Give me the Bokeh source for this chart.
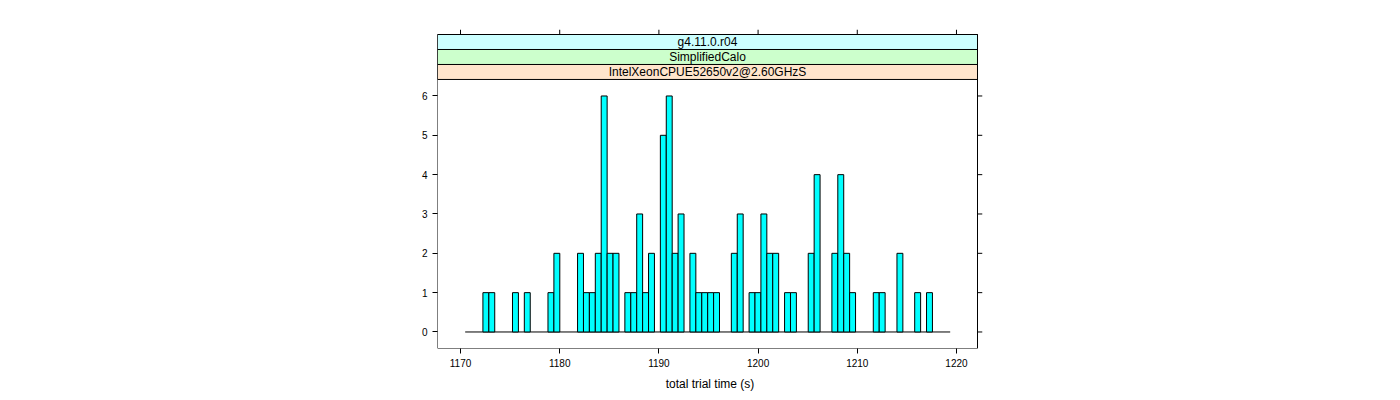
import numpy as np
from bokeh.plotting import figure
from bokeh.models import Range1d, LinearAxis, FixedTicker, Label
from bokeh.core.properties import value
from bokeh.embed import file_html
from bokeh.resources import INLINE

# ---- data ----
counts = [0, 0, 0, 1, 1, 0, 0, 0, 1, 0,
          1, 0, 0, 0, 1, 2, 0, 0, 0, 2,
          1, 1, 2, 6, 2, 2, 0, 1, 1, 3,
          1, 2, 0, 5, 6, 2, 3, 0, 2, 1,
          1, 1, 1, 0, 0, 2, 3, 0, 1, 1,
          3, 2, 2, 0, 1, 1, 0, 0, 2, 4,
          0, 0, 2, 4, 2, 1, 0, 0, 0, 1,
          1, 0, 0, 2, 0, 0, 1, 0, 1, 0,
          0, 0]
break_start = 1170.47
bin_width = 0.5963
x_ticks = [1170, 1180, 1190, 1200, 1210, 1220]
y_ticks = [0, 1, 2, 3, 4, 5, 6]
strip_labels = ["IntelXeonCPUE52650v2@2.60GHzS", "SimplifiedCalo", "g4.11.0.r04"]
strip_colors = ["#FFE5CC", "#CCFFCC", "#CCFFFF"]
x_label = "total trial time (s)"
y_label = "Count"

# ---- derived ----
edges = break_start + bin_width * np.arange(len(counts) + 1)
cnt = np.array(counts)
nz = cnt > 0

FONT = "Liberation Sans"
x_lo, x_hi = 1167.68, 1222.12
y_lo, y_panel_top = -0.42, 6.42
strip_h = 0.381
y_top = y_panel_top + 3 * strip_h

BOX_W, BOX_H = 540, 314          # visible panel box (incl. strips)
LEFT, TOP = 437, 34
TICK = 5
px_per_x = BOX_W / (x_hi - x_lo)
px_per_y = BOX_H / (y_top - y_lo)

# the frame extends TICK px beyond the box on top and right so that
# the outward tick marks there can be drawn as glyphs
FRAME_W, FRAME_H = BOX_W + TICK, BOX_H + TICK
x_end = x_hi + TICK / px_per_x
y_end = y_top + TICK / px_per_y

p = figure(frame_width=FRAME_W, frame_height=FRAME_H,
           min_border_left=LEFT, min_border_right=1400 - LEFT - FRAME_W,
           min_border_top=TOP - TICK, min_border_bottom=400 - TOP - BOX_H,
           x_range=Range1d(x_lo, x_end), y_range=Range1d(y_lo, y_end),
           output_backend="svg", toolbar_location=None,
           x_axis_type=None, y_axis_type=None)
p.outline_line_color = None
p.background_fill_color = "white"
p.border_fill_color = "white"


def mk_axis(ticks, label=None):
    ax = LinearAxis(ticker=FixedTicker(ticks=ticks, minor_ticks=[]))
    ax.axis_line_color = None
    ax.major_tick_in = 0
    ax.major_tick_out = TICK
    ax.major_tick_line_color = "black"
    ax.minor_tick_line_color = None
    ax.major_label_text_font = FONT
    ax.major_label_text_color = "black"
    ax.major_label_standoff = 5
    ax.major_label_text_font_size = "10px"
    if label:
        ax.axis_label = label
        ax.axis_label_text_font = FONT
        ax.axis_label_text_font_size = "12px"
        ax.axis_label_text_font_style = "normal"
        ax.axis_label_text_color = "black"
        ax.axis_label_standoff = 7
    return ax


p.add_layout(mk_axis(x_ticks, x_label), "below")
p.add_layout(mk_axis(y_ticks), "left")

# tick marks on the top and right sides (no labels there)
p.segment(x0=x_ticks, y0=[y_top] * len(x_ticks), x1=x_ticks,
          y1=[y_end] * len(x_ticks), line_color="black", line_width=1)
p.segment(x0=[x_hi] * len(y_ticks), y0=y_ticks, x1=[x_end] * len(y_ticks),
          y1=y_ticks, line_color="black", line_width=1)

# histogram baseline (empty bins) and bars
p.segment(x0=[edges[0]], y0=[0], x1=[edges[-1]], y1=[0], line_color="black", line_width=1)
p.quad(left=edges[:-1][nz], right=edges[1:][nz], bottom=0, top=cnt[nz],
       fill_color="#00FFFF", line_color="black", line_width=1)

# strips
sb = [y_panel_top + i * strip_h for i in range(3)]
st = [y_panel_top + (i + 1) * strip_h for i in range(3)]
p.quad(left=x_lo, right=x_hi, bottom=sb, top=st, fill_color=strip_colors,
       line_color="black", line_width=1)
p.text(x=[(x_lo + x_hi) / 2] * 3, y=[(b + t) / 2 for b, t in zip(sb, st)],
       text=strip_labels, text_font=value(FONT), text_font_size="12px",
       text_align="center", text_baseline="middle", text_color="black")

# panel box
p.quad(left=[x_lo], right=[x_hi], bottom=[y_lo], top=[y_top], fill_color=None,
       line_color="black", line_width=1)

# y axis title centred on the panel (not the strips)
p.add_layout(Label(x=x_lo - 33 / px_per_x, y=(y_lo + y_panel_top) / 2, text=y_label,
                   angle=np.pi / 2, text_align="center", text_baseline="middle",
                   text_font=FONT, text_font_size="12px", text_color="black"))

open("out.html", "w").write(file_html(p, INLINE))
